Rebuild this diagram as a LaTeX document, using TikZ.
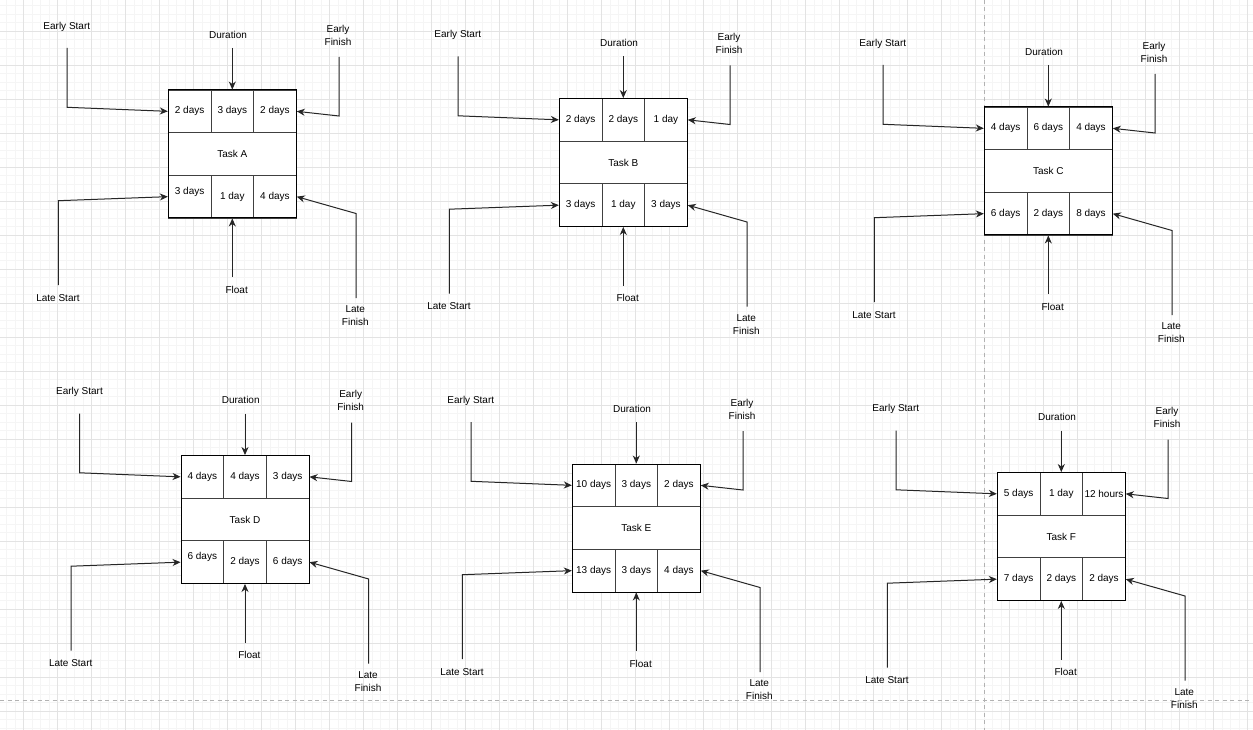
\documentclass[tikz,border=0pt]{standalone}
\usepackage{fontspec}
\setmainfont{Liberation Sans}
\usetikzlibrary{arrows.meta}

\tikzset{
  gridminor/.style={draw=black!4, line width=0.6pt},
  gridmajor/.style={draw=black!11, line width=0.8pt},
  pagebreak/.style={draw=black!30, line width=0.8pt, dash pattern=on 4pt off 3.5pt},
  cell/.style={draw=black!75, line width=0.9pt, fill=white, inner sep=0pt,
    minimum width=42.67pt, minimum height=42.67pt, font=\fontsize{10}{12}\selectfont},
  titlecell/.style={cell, minimum width=128pt},
  pertframe/.style={draw=black, line width=1pt, inner sep=0pt,
    minimum width=128pt, minimum height=128pt},
  lbl/.style={font=\fontsize{10}{13}\selectfont, align=center, inner sep=0pt},
  conn/.style={draw=black!85, line width=1pt,
    -{Stealth[length=8pt,width=7pt,inset=2.5pt]}},
}

% One activity-on-node box: #1 name, #2/#3 top-left corner,
% #4-#6 top row (ES, duration, EF), #7-#9 bottom row (LS, float, LF)
\newcommand\pertbox[9]{%
  \begin{scope}[shift={(#2,#3)}]
    \node[cell] (#1-c1) at (21.33,21.33) {#4};
    \node[cell] (#1-c2) at (64,21.33) {#5};
    \node[cell] (#1-c3) at (106.67,21.33) {#6};
    \node[titlecell] (#1-t) at (64,64) {Task #1};
    \node[cell] (#1-c4) at (21.33,106.67) {#7};
    \node[cell] (#1-c5) at (64,106.67) {#8};
    \node[cell] (#1-c6) at (106.67,106.67) {#9};
    \node[pertframe] (#1-box) at (64,64) {};
    \node[lbl] (#1-es) at (-101.5,-63.3) {Early Start};
    \node[lbl] (#1-du) at (59.7,-55.3) {Duration};
    \node[lbl] (#1-ef) at (169.7,-54.8) {Early\\Finish};
    \node[lbl] (#1-ls) at (-110.3,208) {Late Start};
    \node[lbl] (#1-fl) at (68.4,199.5) {Float};
    \node[lbl] (#1-lf) at (187,226) {Late\\Finish};
    \draw[conn] (#1-es) ++(0.2,21.3) -- ++(0,59.3) -- (#1-c1.west);
    \draw[conn] (#1-du) ++(4.3,13.3) -- (#1-c2.north);
    \draw[conn] (#1-ef) ++(1,21.8) -- ++(0,59) -- (#1-c3.east);
    \draw[conn] (#1-ls) ++(0.3,-13) -- ++(0,-84.3) -- (#1-c4.west);
    \draw[conn] (#1-fl) ++(-4.4,-12.5) -- (#1-c5.south);
    \draw[conn] (#1-lf) ++(0.7,-18) -- ++(0,-84.5) -- (#1-c6.east);
  \end{scope}}

% text set a little above the middle of its cell
\newcommand\lifted[1]{\raisebox{12pt}{#1}}

\begin{document}
\begin{tikzpicture}[x=1pt,y=-1pt]
  \useasboundingbox (0,0) rectangle (1253,730);
  \fill[white] (0,0) rectangle (1253,730);

  % background grid
  \foreach \i in {0,...,147}
    \draw[gridminor] ({-2.2+8.5*\i},0) -- ({-2.2+8.5*\i},730);
  \foreach \j in {0,...,86}
    \draw[gridminor] (0,{-3+8.5*\j}) -- (1253,{-3+8.5*\j});
  \foreach \i in {0,...,36}
    \draw[gridmajor] ({23.3+34*\i},0) -- ({23.3+34*\i},730);
  \foreach \j in {0,...,20}
    \draw[gridmajor] (0,{31+34*\j}) -- (1253,{31+34*\j});

  % page breaks
  \draw[pagebreak] (984.3,0) -- (984.3,730);
  \draw[pagebreak] (0,700.7) -- (1253,700.7);

  \pertbox{A}{168.3}{90}{2 days}{3 days}{2 days}{\lifted{3 days}}{1 day}{4 days}
  \pertbox{B}{559.3}{98.5}{2 days}{2 days}{1 day}{3 days}{1 day}{3 days}
  \pertbox{C}{984.3}{107}{4 days}{6 days}{4 days}{6 days}{2 days}{8 days}
  \pertbox{D}{181}{455.5}{4 days}{4 days}{3 days}{\lifted{6 days}}{2 days}{6 days}
  \pertbox{E}{572.3}{464}{10 days}{3 days}{2 days}{13 days}{3 days}{4 days}
  \pertbox{F}{997.3}{472.5}{5 days}{1 day}{12 hours}{7 days}{2 days}{2 days}
\end{tikzpicture}
\end{document}
